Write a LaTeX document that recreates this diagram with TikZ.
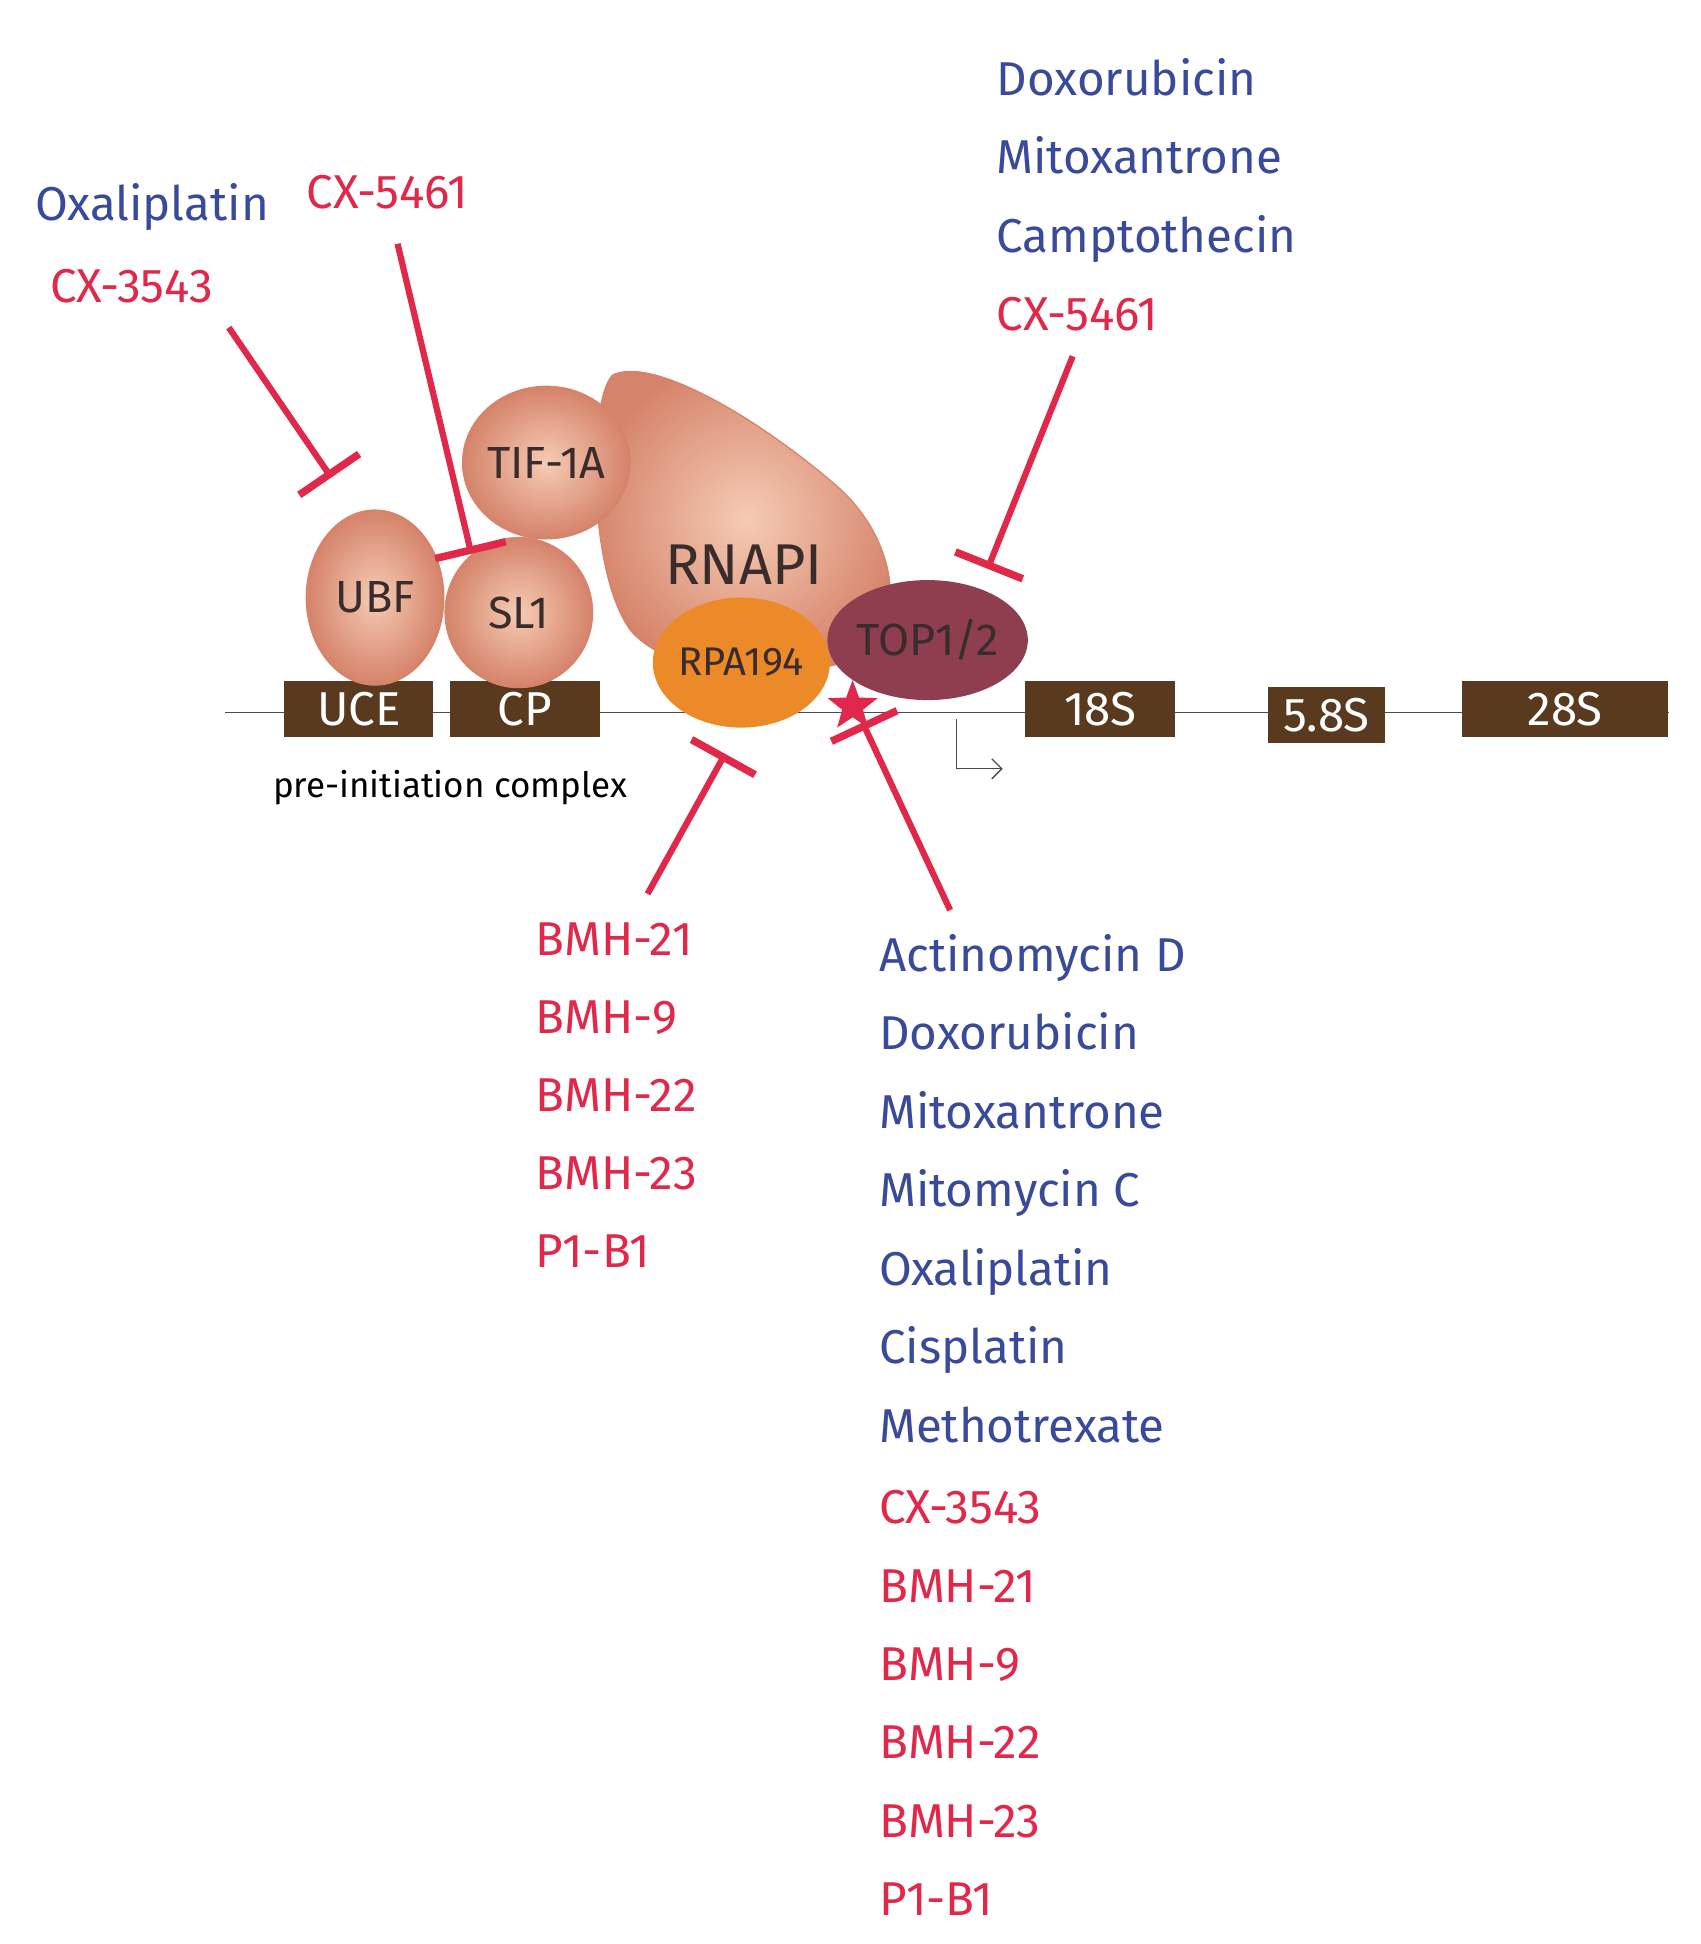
\documentclass[tikz,border=0pt]{standalone}
\usepackage{fontspec}
\setmainfont{Fira Sans}
\usetikzlibrary{arrows.meta,shapes.geometric}
\definecolor{dblue}{HTML}{3A4A9A}
\definecolor{dred}{HTML}{E0284A}
\definecolor{brn}{HTML}{5A3A1E}
\definecolor{saldark}{HTML}{D5836A}
\definecolor{sallight}{HTML}{F6CBB4}
\definecolor{maroon}{HTML}{8E3E4E}
\definecolor{orng}{HTML}{EC8A2A}
\definecolor{txt}{HTML}{3A2C2C}
\tikzset{
 box/.style={fill=brn,text=white,inner sep=0pt,font=\fontsize{38}{38}\selectfont},
 bub/.style={ellipse,draw=saldark,line width=1pt,inner color=sallight,outer color=saldark,text=txt,font=\fontsize{36}{36}\selectfont,inner sep=0pt},
 inh/.style={dred,line width=5pt,-{Bar[width=58pt,line width=6pt]}},
 lb/.style={anchor=base west,inner sep=0pt,font=\fontsize{38}{38}\selectfont},
 bl/.style={lb,text=dblue},
 rd/.style={lb,text=dred},
}
\begin{document}
\begin{tikzpicture}[x=1pt,y=-1pt]
\useasboundingbox (0,0) rectangle (1360,1555);
\draw[line width=1.2pt,black!70] (180,570) -- (1335,570);
\node[box,minimum width=119pt,minimum height=45pt] (uce) at (287,567) {UCE};
\node[box,minimum width=120pt,minimum height=45pt] (cp) at (420,567) {CP};
\node[box,minimum width=120pt,minimum height=45pt] (s18) at (880,567) {18S};
\node[box,minimum width=93pt,minimum height=45pt] (s58) at (1061,572) {5.8S};
\node[box,minimum width=165pt,minimum height=45pt] (s28) at (1252,567) {28S};
\node[font=\fontsize{28}{28}\selectfont,text=black] (pic) at (360,630) {pre-initiation complex};
% RNAPI blob
\draw[saldark,line width=1pt,inner color=sallight,outer color=saldark]
 (490,300) .. controls (520,285) and (600,330) .. (665,385)
 .. controls (720,430) and (725,500) .. (690,525)
 .. controls (640,545) and (540,545) .. (505,505)
 .. controls (470,460) and (470,320) .. (490,300) -- cycle;
\node[text=txt,font=\fontsize{46}{46}\selectfont] (rnapi) at (595,452) {RNAPI};
\node[bub,minimum width=110pt,minimum height=140pt] (ubf) at (300,478) {UBF};
\node[bub,minimum width=118pt,minimum height=120pt] (sl1) at (415,490) {SL1};
\node[bub,minimum width=100pt,minimum height=122pt] (tif) at (437,370) {TIF-1A};
\node[ellipse,fill=orng,minimum width=134pt,minimum height=104pt,inner sep=0pt,text=txt,font=\fontsize{32}{32}\selectfont] (rpa) at (593,530) {RPA194};
\node[ellipse,fill=maroon,minimum width=136pt,minimum height=96pt,inner sep=0pt,text=txt,font=\fontsize{36}{36}\selectfont] (top) at (742,512) {TOP1/2};
\node[star,star points=5,star point ratio=2.4,fill=dred,minimum size=42pt,inner sep=0pt] (star) at (682,565) {};
\coordinate (ts) at (765,575);
\coordinate (te) at (802,615);
\draw[line width=1pt,black!70,-{Straight Barb[length=8pt]}] (ts) |- (te);
% inhibitors
\coordinate (a1) at (183,262); \coordinate (b1) at (265,382);
\coordinate (a2) at (318,195); \coordinate (b2) at (377,443);
\coordinate (a3) at (858,285); \coordinate (b3) at (790,455);
\coordinate (a4) at (518,715); \coordinate (b4) at (580,603);
\coordinate (a5) at (760,728); \coordinate (b5) at (690,578);
\foreach \i in {1,...,5} \draw[inh] (a\i) -- (b\i);
% labels
\node[bl] (l1) at (28,176) {Oxaliplatin};
\node[rd] (l2) at (40,242) {CX-3543};
\node[rd] (l3) at (245,167) {CX-5461};
\node[bl] (t1) at (797,76) {Doxorubicin};
\node[bl] (t2) at (797,139) {Mitoxantrone};
\node[bl] (t3) at (797,202) {Camptothecin};
\node[rd] (t4) at (797,264) {CX-5461};
\foreach \t [count=\k] in {BMH-21,BMH-9,BMH-22,BMH-23,P1-B1}
 \node[rd] (m\k) at (428,{764+62.5*(\k-1)}) {\t};
\foreach \t [count=\k] in {Actinomycin D,Doxorubicin,Mitoxantrone,Mitomycin C,Oxaliplatin,Cisplatin,Methotrexate}
 \node[bl] (r\k) at (703,{777+62.8*(\k-1)}) {\t};
\foreach \t [count=\k] in {CX-3543,BMH-21,BMH-9,BMH-22,BMH-23,P1-B1}
 \node[rd] (q\k) at (703,{1219+62.6*(\k-1)}) {\t};
\end{tikzpicture}
\end{document}
